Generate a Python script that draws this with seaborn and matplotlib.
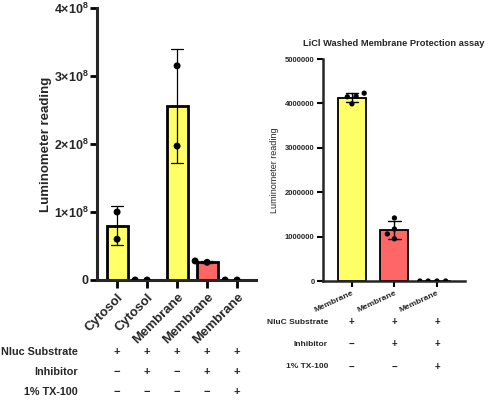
import numpy as np
import pandas as pd
import matplotlib
matplotlib.use("Agg")
import matplotlib.pyplot as plt
import seaborn as sns

sns.set_style("ticks")
plt.rcParams['font.family'] = ['Liberation Sans', 'DejaVu Sans']
plt.rcParams['mathtext.fontset'] = 'custom'
plt.rcParams['mathtext.rm'] = 'Liberation Sans'
plt.rcParams['mathtext.bf'] = 'Liberation Sans:bold'

YELLOW = "#FFFF66"
RED = "#FF6666"

# ---------------- data: left panel ----------------
left_labels = ["Cytosol", "Cytosol", "Membrane", "Membrane", "Membrane"]
left_reps = [
    [1.00e8, 0.60e8],
    [0.0, 0.0],
    [3.15e8, 1.97e8],
    [0.26e8, 0.28e8],
    [0.0, 0.0],
]
left_colors = [YELLOW, YELLOW, YELLOW, RED, RED]
left_yticks = [0, 1e8, 2e8, 3e8, 4e8]
left_yticklabels = ["0", r"$\mathbf{1{\times}10^{8}}$", r"$\mathbf{2{\times}10^{8}}$",
                    r"$\mathbf{3{\times}10^{8}}$", r"$\mathbf{4{\times}10^{8}}$"]
left_rows = ["Nluc Substrate", "Inhibitor", "1% TX-100"]
left_signs = [["+", "+", "+", "+", "+"],
              ["−", "+", "−", "+", "+"],
              ["−", "−", "−", "−", "+"]]

# ---------------- data: right panel ----------------
right_title = "LiCl Washed Membrane Protection assay"
right_labels = ["Membrane", "Membrane", "Membrane"]
right_reps = [
    [4.16e6, 4.23e6, 3.99e6, 4.15e6],
    [0.95e6, 1.17e6, 1.42e6, 1.06e6],
    [0.0, 0.0, 0.0, 0.0],
]
right_colors = [YELLOW, RED, RED]
right_yticks = [0, 1000000, 2000000, 3000000, 4000000, 5000000]
right_rows = ["NluC Substrate", "Inhibitor", "1% TX-100"]
right_signs = [["+", "+", "+"],
               ["−", "+", "+"],
               ["−", "−", "+"]]


def to_df(reps):
    rows = []
    for i, vals in enumerate(reps):
        for v in vals:
            rows.append({"cond": f"c{i}", "value": v})
    return pd.DataFrame(rows)


fig = plt.figure(figsize=(4.88, 4.00), dpi=100)

# ================= LEFT =================
axL = fig.add_axes([97 / 488, 1 - 280 / 400, (256 - 97) / 488, (280 - 8) / 400])
dfL = to_df(left_reps)
orderL = [f"c{i}" for i in range(len(left_reps))]
sns.barplot(data=dfL, x="cond", y="value", order=orderL, hue="cond",
            palette=dict(zip(orderL, left_colors)), legend=False, saturation=1,
            errorbar="sd", capsize=0.4, width=0.7,
            edgecolor="black", linewidth=2.0,
            err_kws={"linewidth": 0.9, "color": "black"}, ax=axL)
sns.swarmplot(data=dfL, x="cond", y="value", order=orderL, color="black",
              size=5, linewidth=4.5, edgecolor="none", ax=axL, zorder=4)
axL.set_xlim(-0.67, 4.63)
axL.set_ylim(0, 4e8)
axL.set_yticks(left_yticks)
axL.set_yticklabels(left_yticklabels, fontsize=9, fontweight="bold")
axL.set_xticks(range(len(left_labels)))
axL.set_xticklabels(left_labels, rotation=45, ha="right", rotation_mode="anchor",
                    fontsize=9.5, fontweight="bold")
axL.set_xlabel("")
axL.set_ylabel("Luminometer reading", fontsize=9.5, fontweight="bold", labelpad=1)
axL.tick_params(axis="x", length=6, width=2, color="black", pad=2)
axL.tick_params(axis="y", length=5, width=2, color="black", pad=1)
for s in ["left", "bottom"]:
    axL.spines[s].set_linewidth(2.2)
sns.despine(ax=axL)
trL = axL.get_xaxis_transform()
rowyL = [-0.265, -0.338, -0.412]
for r, (lab, signs) in enumerate(zip(left_rows, left_signs)):
    fig.text(78 / 488, 1 - (280 - rowyL[r] * 272) / 400, lab, ha="right", va="center",
             fontsize=7.8, fontweight="bold")
    for i, s in enumerate(signs):
        axL.text(i, rowyL[r], s, transform=trL, ha="center", va="center",
                 fontsize=8, fontweight="bold", clip_on=False)

# ================= RIGHT =================
axR = fig.add_axes([323 / 488, 1 - 281 / 400, (465 - 323) / 488, (281 - 59) / 400])
dfR = to_df(right_reps)
orderR = [f"c{i}" for i in range(len(right_reps))]
sns.barplot(data=dfR, x="cond", y="value", order=orderR, hue="cond",
            palette=dict(zip(orderR, right_colors)), legend=False, saturation=1,
            errorbar="sd", capsize=0.3, width=0.66,
            edgecolor="black", linewidth=1.3,
            err_kws={"linewidth": 1.0, "color": "black"}, ax=axR)
sns.swarmplot(data=dfR, x="cond", y="value", order=orderR, color="black",
              size=3.8, linewidth=2.2, edgecolor="none", ax=axR, zorder=4)
axR.set_xlim(-0.68, 2.66)
axR.set_ylim(0, 5e6)
axR.set_yticks(right_yticks)
axR.set_yticklabels([str(v) for v in right_yticks], fontsize=5.5, fontweight="bold")
axR.set_xticks(range(len(right_labels)))
axR.set_xticklabels(right_labels, rotation=25, ha="right", rotation_mode="anchor",
                    fontsize=6, fontweight="bold")
axR.set_xlabel("")
axR.set_ylabel("Luminometer reading", fontsize=6.5, labelpad=4)
axR.set_title(right_title, fontsize=6.7, fontweight="bold", pad=9)
axR.tick_params(axis="both", length=4, width=1.5, color="black", pad=2)
for s in ["left", "bottom"]:
    axR.spines[s].set_linewidth(1.8)
sns.despine(ax=axR)
trR = axR.get_xaxis_transform()
rowyR = [-0.185, -0.284, -0.387]
for r, (lab, signs) in enumerate(zip(right_rows, right_signs)):
    fig.text(328 / 488, 1 - (281 - rowyR[r] * 222) / 400, lab, ha="right", va="center",
             fontsize=6, fontweight="bold")
    for i, s in enumerate(signs):
        axR.text(i, rowyR[r], s, transform=trR, ha="center", va="center",
                 fontsize=7, fontweight="bold", clip_on=False)

fig.savefig("out.png", dpi=100)
